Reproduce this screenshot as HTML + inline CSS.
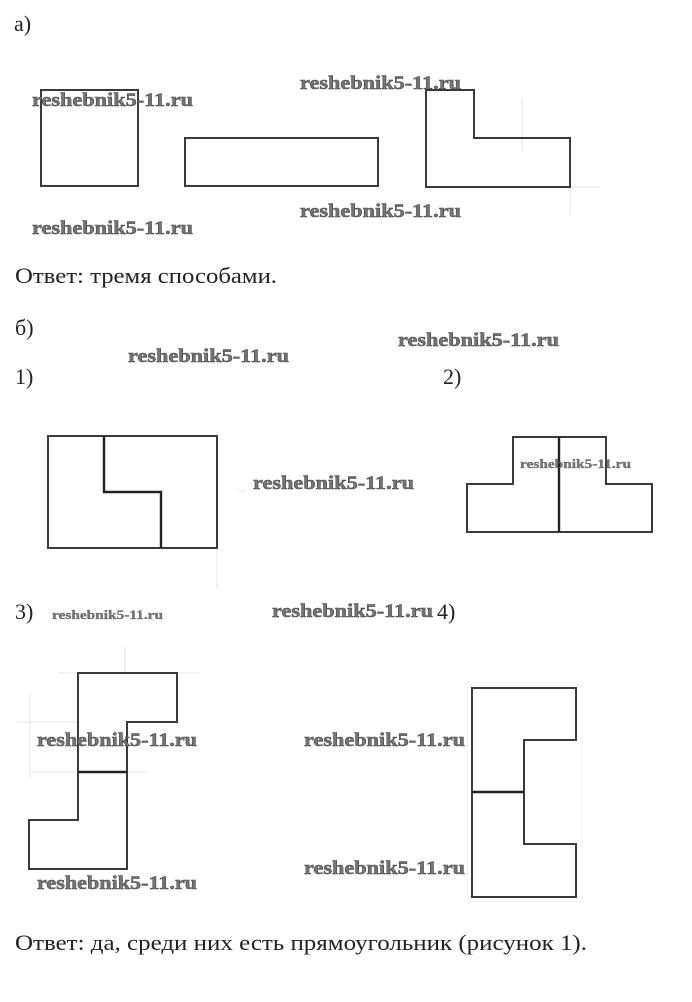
<!DOCTYPE html>
<html><head><meta charset="utf-8"><style>
html,body{margin:0;padding:0;background:#fff;}
svg{display:block;}
.t{font-family:"Liberation Serif","Noto Serif CJK SC",serif;font-size:22px;fill:#222;}
.w{font-family:"Liberation Serif",serif;font-weight:bold;font-size:19px;fill:#757575;stroke:#454545;stroke-width:0.5;}
.ws{font-family:"Liberation Serif",serif;font-weight:bold;font-size:13px;fill:#777;stroke:#555;stroke-width:0.3;}
.s{fill:none;stroke:#3a3a3a;stroke-width:2;}
.c{fill:none;stroke:#222;stroke-width:2.4;}
.f{fill:none;stroke:#e6e6e6;stroke-width:1;}
</style></head><body>
<svg width="692" height="1002" viewBox="0 0 692 1002" xmlns="http://www.w3.org/2000/svg">
<rect width="692" height="1002" fill="#fff"/>
<!-- faint lines -->
<line class="f" x1="522" y1="98" x2="522" y2="152"/>
<line class="f" x1="570" y1="187" x2="600" y2="187"/>
<line class="f" x1="570" y1="187" x2="570" y2="215"/>
<line class="f" x1="217" y1="548" x2="217" y2="588"/>
<line class="f" x1="238" y1="491" x2="246" y2="491"/>
<line class="f" x1="17" y1="722" x2="78" y2="722"/>
<line class="f" x1="30" y1="772" x2="147" y2="772"/>
<line class="f" x1="30" y1="693" x2="30" y2="777"/>
<line class="f" x1="58" y1="673" x2="200" y2="673"/>
<line class="f" x1="125" y1="647" x2="125" y2="673"/>
<rect x="468" y="682" width="114" height="220" fill="none" stroke="#f3f3f3" stroke-width="1"/>

<!-- labels -->
<text class="t" x="14" y="31">а)</text>
<text class="t" x="15" y="283" textLength="262" lengthAdjust="spacingAndGlyphs">Ответ: тремя способами.</text>
<text class="t" x="15" y="335">б)</text>
<text class="t" x="15" y="384">1)</text>
<text class="t" x="443" y="384">2)</text>
<text class="t" x="15" y="619">3)</text>
<text class="t" x="437" y="619">4)</text>
<text class="t" x="15" y="950" textLength="572" lengthAdjust="spacingAndGlyphs">Ответ: да, среди них есть прямоугольник (рисунок 1).</text>

<!-- a) shapes -->
<rect class="s" x="41" y="90" width="97" height="96"/>
<rect class="s" x="185" y="138" width="193" height="48"/>
<polygon class="s" points="426,90 474,90 474,138 570,138 570,187 426,187"/>

<!-- б) 1 -->
<rect class="s" x="48" y="436" width="169" height="112"/>
<polyline class="c" points="104,436 104,492 161,492 161,548"/>

<!-- б) 2 -->
<polygon class="s" points="467,484 513,484 513,437 606,437 606,484 652,484 652,532 467,532"/>
<line class="c" x1="559" y1="437" x2="559" y2="532"/>

<!-- б) 3 -->
<polygon class="s" points="78,673 177,673 177,722 127,722 127,869 29,869 29,820 78,820"/>
<line class="c" x1="78" y1="772" x2="127" y2="772"/>

<!-- б) 4 -->
<polygon class="s" points="472,688 576,688 576,740 524,740 524,844 576,844 576,897 472,897"/>
<line class="c" x1="472" y1="792" x2="524" y2="792"/>

<!-- watermarks -->
<text class="w" x="32" y="106" textLength="161" lengthAdjust="spacingAndGlyphs">reshebnik5-11.ru</text>
<text class="w" x="32" y="234" textLength="161" lengthAdjust="spacingAndGlyphs">reshebnik5-11.ru</text>
<text class="w" x="300" y="89" textLength="161" lengthAdjust="spacingAndGlyphs">reshebnik5-11.ru</text>
<text class="w" x="300" y="217" textLength="161" lengthAdjust="spacingAndGlyphs">reshebnik5-11.ru</text>
<text class="w" x="128" y="362" textLength="161" lengthAdjust="spacingAndGlyphs">reshebnik5-11.ru</text>
<text class="w" x="398" y="346" textLength="161" lengthAdjust="spacingAndGlyphs">reshebnik5-11.ru</text>
<text class="w" x="253" y="489" textLength="161" lengthAdjust="spacingAndGlyphs">reshebnik5-11.ru</text>
<text class="ws" x="520" y="468" textLength="111" lengthAdjust="spacingAndGlyphs">reshebnik5-11.ru</text>
<text class="ws" x="52" y="619" textLength="111" lengthAdjust="spacingAndGlyphs">reshebnik5-11.ru</text>
<text class="w" x="272" y="617" textLength="161" lengthAdjust="spacingAndGlyphs">reshebnik5-11.ru</text>
<text class="w" x="37" y="746" textLength="160" lengthAdjust="spacingAndGlyphs">reshebnik5-11.ru</text>
<text class="w" x="37" y="889" textLength="160" lengthAdjust="spacingAndGlyphs">reshebnik5-11.ru</text>
<text class="w" x="304" y="746" textLength="161" lengthAdjust="spacingAndGlyphs">reshebnik5-11.ru</text>
<text class="w" x="304" y="874" textLength="161" lengthAdjust="spacingAndGlyphs">reshebnik5-11.ru</text>
</svg>
</body></html>
